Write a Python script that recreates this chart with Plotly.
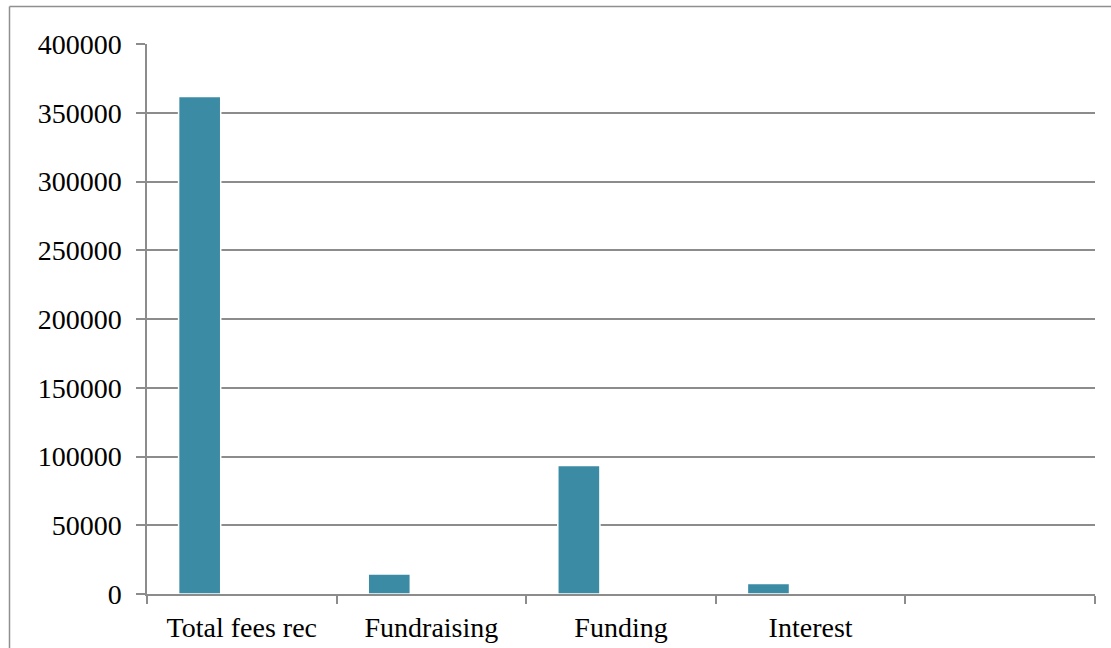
import plotly.graph_objects as go

# Income breakdown (three series per category; only the first holds values)
categories = ["Total fees rec", "Fundraising", "Funding", "Interest", " "]
series_1 = [362000, 14500, 93500, 7700, None]
series_2 = [None, None, None, None, None]
series_3 = [None, None, None, None, None]
y_ticks = [0, 50000, 100000, 150000, 200000, 250000, 300000, 350000, 400000]

BAR_COLOR = "#3B8BA4"
GRID = "#8C8C8C"
FONT = dict(family="Liberation Serif, Times New Roman, serif", size=28, color="#000000")

W, H = 1111, 648
M_L, M_R, M_T, M_B = 147, 16, 44, 54
plot_w = W - M_L - M_R
plot_h = H - M_T - M_B

fig = go.Figure()
for name, vals in (("Series 1", series_1), ("Series 2", series_2), ("Series 3", series_3)):
    fig.add_trace(go.Bar(
        x=categories, y=vals, name=name,
        marker=dict(color=BAR_COLOR, line=dict(color="#FFFFFF", width=1.5)),
    ))

# outer chart frame (runs off the right and bottom edges of the page)
fx0 = (9.5 - M_L) / plot_w
fy1 = (H - M_B - 6.5) / plot_h
fig.add_shape(type="line", xref="paper", yref="paper", x0=fx0, x1=(W + 5 - M_L) / plot_w,
              y0=fy1, y1=fy1, line=dict(color="#8F8F8F", width=1.5))
fig.add_shape(type="line", xref="paper", yref="paper", x0=fx0, x1=fx0,
              y0=fy1, y1=-(M_B + 5) / plot_h, line=dict(color="#8F8F8F", width=1.5))

fig.update_layout(
    width=W, height=H,
    margin=dict(l=M_L, r=M_R, t=M_T, b=M_B, pad=0, autoexpand=False),
    paper_bgcolor="#FFFFFF", plot_bgcolor="#FFFFFF",
    barmode="group", bargap=1.5 / 4.5, bargroupgap=0,
    showlegend=False,
    font=FONT,
    xaxis=dict(
        type="category", categoryorder="array", categoryarray=categories,
        showgrid=False, showline=True, linecolor=GRID, linewidth=1.5,
        ticks="outside", tickson="boundaries", ticklen=8, tickwidth=1.5, tickcolor=GRID,
        tickfont=FONT, ticklabelstandoff=8, automargin=False,
    ),
    yaxis=dict(
        range=[0, 400000 * 1.0004], tickvals=y_ticks, ticktext=[str(v) for v in y_ticks],
        showgrid=True, gridcolor=GRID, gridwidth=1.5,
        showline=True, linecolor=GRID, linewidth=1.5,
        ticks="outside", ticklen=9, tickwidth=1.5, tickcolor=GRID,
        tickfont=FONT, ticklabelstandoff=9, zeroline=False, automargin=False,
    ),
)

fig.write_html("out.html")
